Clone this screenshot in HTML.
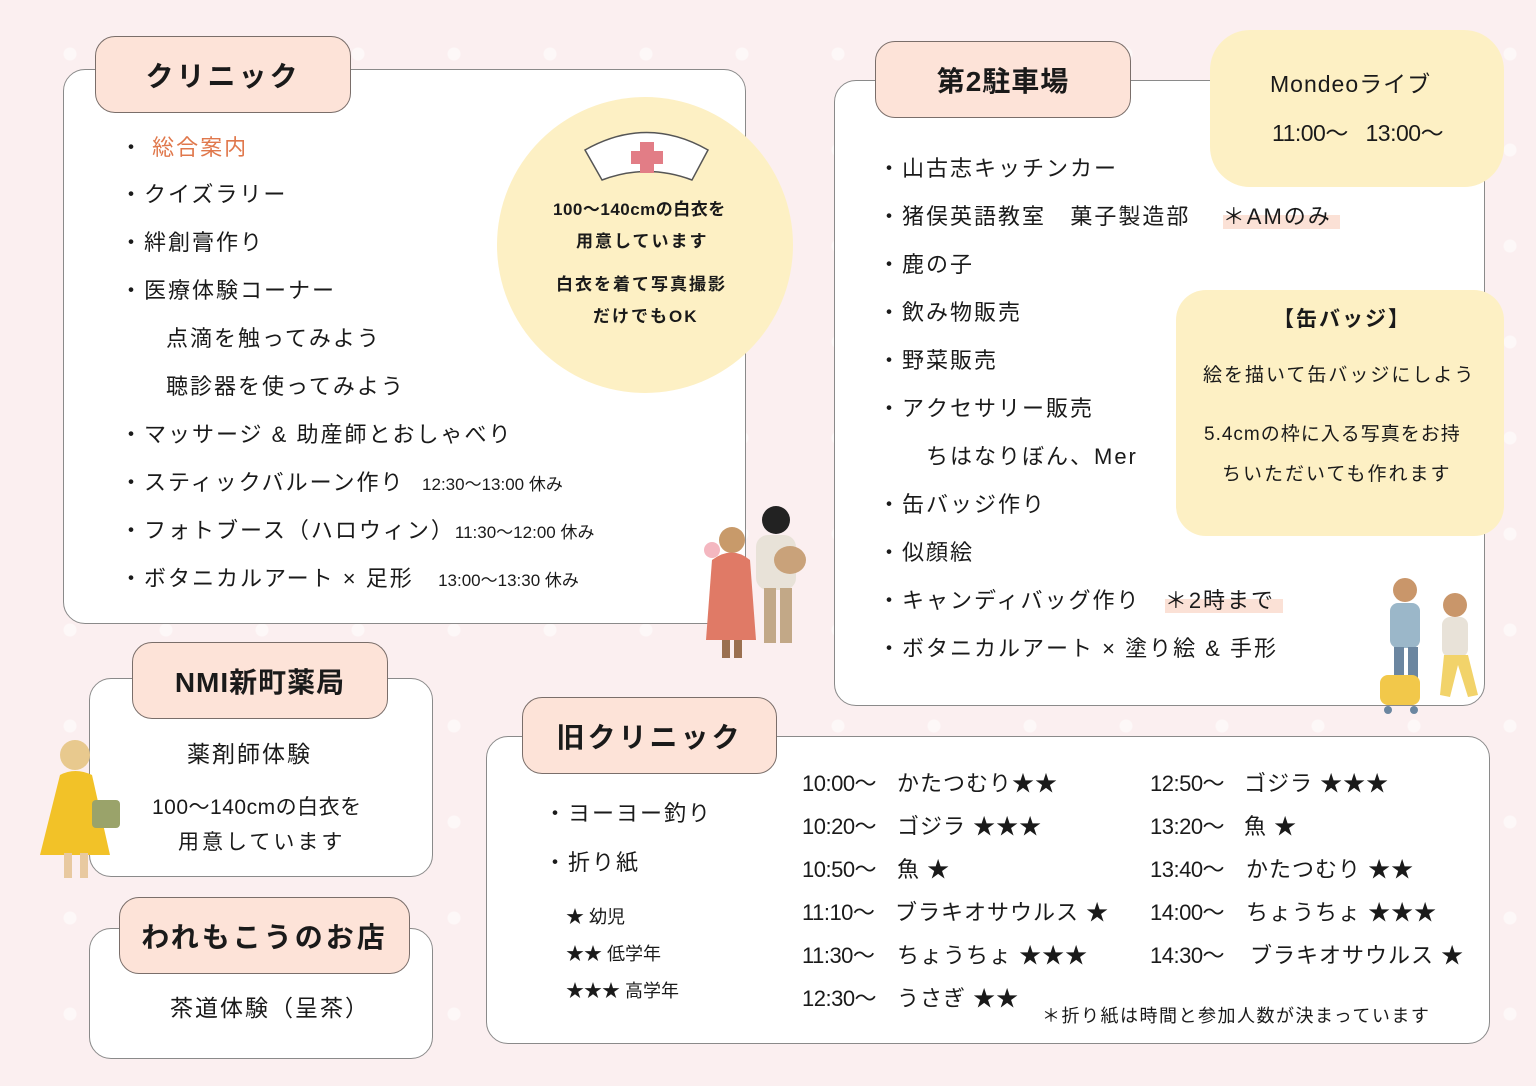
<!DOCTYPE html>
<html><head><meta charset="utf-8">
<style>
*{margin:0;padding:0;box-sizing:border-box}
body{width:1536px;height:1086px;position:relative;overflow:hidden;background:#fbeff0;
font-family:"Liberation Sans","Noto Sans CJK JP",sans-serif;color:#1a1a1a;
background-image:radial-gradient(circle,#fdf8f8 6px,transparent 7px);background-size:96px 96px;background-position:22px 6px}
.box{position:absolute;background:#fff;border:1.5px solid #8a8a8a;border-radius:22px}
.tab{position:absolute;background:#fde3d8;border:1.5px solid #7a6e6a;border-radius:20px;display:flex;align-items:center;justify-content:center;font-weight:bold;font-size:28px;letter-spacing:3px}
.y{position:absolute;background:#fdf0c4;border-radius:40px}
.t{position:absolute;white-space:nowrap;line-height:1;font-size:22px;letter-spacing:2px}
.s{font-size:17px;letter-spacing:0}
.tt{letter-spacing:1px}
.hl{background:linear-gradient(transparent 45%,#fbe1d6 45%)}
</style></head><body>

<div class="box" style="left:63px;top:69px;width:683px;height:555px"></div>
<div class="tab" style="left:95px;top:36px;width:256px;height:77px">クリニック</div>
<div class="t" style="left:120px;top:137px">・ <span style="color:#e0784c">総合案内</span></div>
<div class="t" style="left:120px;top:184px">・クイズラリー</div>
<div class="t" style="left:120px;top:232px">・絆創膏作り</div>
<div class="t" style="left:120px;top:280px">・医療体験コーナー</div>
<div class="t" style="left:166px;top:328px">点滴を触ってみよう</div>
<div class="t" style="left:166px;top:376px">聴診器を使ってみよう</div>
<div class="t" style="left:120px;top:424px">・マッサージ &amp; 助産師とおしゃべり</div>
<div class="t" style="left:120px;top:472px">・スティックバルーン作り <span class="s">&nbsp;&nbsp;12:30〜13:00 休み</span></div>
<div class="t" style="left:120px;top:520px">・フォトブース（ハロウィン）<span class="s">11:30〜12:00 休み</span></div>
<div class="t" style="left:120px;top:568px">・ボタニカルアート × 足形 &nbsp;&nbsp;<span class="s">13:00〜13:30 休み</span></div>

<div style="position:absolute;left:497px;top:97px;width:296px;height:296px;border-radius:50%;background:#fdf0c4"></div>
<svg style="position:absolute;left:580px;top:125px" width="135" height="60" viewBox="0 0 135 60">
<path d="M5 25 Q67 -10 128 25 L112 55 Q67 38 22 55 Z" fill="#fff" stroke="#555" stroke-width="1.5"/>
<path d="M60 17h14v9h9v13h-9v9h-14v-9h-9v-13h9z" fill="#e27d86"/>
</svg>
<div class="t" style="left:553px;top:201px;font-size:17px;letter-spacing:0.5px;font-weight:bold">100〜140cmの白衣を</div>
<div class="t" style="left:576px;top:233px;font-size:17px;letter-spacing:2px;font-weight:bold">用意しています</div>
<div class="t" style="left:556px;top:276px;font-size:17px;letter-spacing:2px;font-weight:bold">白衣を着て写真撮影</div>
<div class="t" style="left:593px;top:308px;font-size:17px;letter-spacing:2px;font-weight:bold">だけでもOK</div>

<svg style="position:absolute;left:700px;top:500px" width="110" height="165" viewBox="0 0 110 165">
<circle cx="76" cy="20" r="14" fill="#222"/>
<rect x="56" y="35" width="40" height="55" rx="12" fill="#e8e2d8"/>
<ellipse cx="90" cy="60" rx="16" ry="14" fill="#c9a27a"/>
<rect x="64" y="88" width="12" height="55" fill="#c2a887"/><rect x="80" y="88" width="12" height="55" fill="#c2a887"/>
<circle cx="32" cy="40" r="13" fill="#c89a6a"/>
<path d="M12 60 Q32 45 50 60 L56 140 L6 140 Z" fill="#e07a66"/>
<circle cx="12" cy="50" r="8" fill="#f4b7c0"/>
<rect x="22" y="140" width="8" height="18" fill="#9a7050"/><rect x="34" y="140" width="8" height="18" fill="#9a7050"/>
</svg>

<div class="box" style="left:834px;top:80px;width:651px;height:626px"></div>
<div class="tab" style="left:875px;top:41px;width:256px;height:77px;letter-spacing:1px">第2駐車場</div>
<div class="y" style="left:1210px;top:30px;width:294px;height:157px"></div>
<div class="t" style="left:1270px;top:73px;font-size:23px;letter-spacing:1px">Mondeoライブ</div>
<div class="t" style="left:1272px;top:122px;font-size:23px;letter-spacing:-0.5px">11:00〜 &nbsp;&nbsp;13:00〜</div>
<div class="t" style="left:878px;top:158px">・山古志キッチンカー</div>
<div class="t" style="left:878px;top:206px">・猪俣英語教室 &nbsp;&nbsp;菓子製造部 &nbsp;&nbsp;&nbsp;<span class="hl">＊AMのみ&nbsp;</span></div>
<div class="t" style="left:878px;top:254px">・鹿の子</div>
<div class="t" style="left:878px;top:302px">・飲み物販売</div>
<div class="t" style="left:878px;top:350px">・野菜販売</div>
<div class="t" style="left:878px;top:398px">・アクセサリー販売</div>
<div class="t" style="left:926px;top:446px">ちはなりぼん、Mer</div>
<div class="t" style="left:878px;top:494px">・缶バッジ作り</div>
<div class="t" style="left:878px;top:542px">・似顔絵</div>
<div class="t" style="left:878px;top:590px">・キャンディバッグ作り &nbsp;&nbsp;<span class="hl">＊2時まで&nbsp;</span></div>
<div class="t" style="left:878px;top:638px">・ボタニカルアート × 塗り絵 &amp; 手形</div>
<div class="y" style="left:1176px;top:290px;width:328px;height:246px;border-radius:30px"></div>
<div class="t" style="left:1273px;top:309px;font-size:21px;font-weight:bold;letter-spacing:2px">【缶バッジ】</div>
<div class="t" style="left:1203px;top:366px;font-size:19px;letter-spacing:2px">絵を描いて缶バッジにしよう</div>
<div class="t" style="left:1204px;top:425px;font-size:19px;letter-spacing:1px">5.4cmの枠に入る写真をお持</div>
<div class="t" style="left:1222px;top:465px;font-size:19px;letter-spacing:2px">ちいただいても作れます</div>
<svg style="position:absolute;left:1380px;top:575px" width="105" height="145" viewBox="0 0 105 145">
<circle cx="25" cy="15" r="12" fill="#c9966a"/><rect x="10" y="28" width="30" height="45" rx="8" fill="#9bb7c9"/>
<rect x="14" y="72" width="10" height="45" fill="#6b86a0"/><rect x="28" y="72" width="10" height="45" fill="#6b86a0"/>
<circle cx="75" cy="30" r="12" fill="#c9966a"/><rect x="62" y="42" width="26" height="40" rx="8" fill="#e8e2d8"/>
<path d="M64 80 L88 80 L98 120 L88 122 L78 90 L70 122 L60 120Z" fill="#f2d36a"/>
<rect x="0" y="100" width="40" height="30" rx="8" fill="#f2c84a"/><circle cx="8" cy="135" r="4" fill="#6b86a0"/><circle cx="34" cy="135" r="4" fill="#6b86a0"/>
</svg>

<div class="box" style="left:89px;top:678px;width:344px;height:199px"></div>
<div class="tab" style="left:132px;top:642px;width:256px;height:77px;letter-spacing:1px">NMI新町薬局</div>
<div class="t" style="left:187px;top:743px;font-size:23px;letter-spacing:2px">薬剤師体験</div>
<div class="t" style="left:152px;top:797px;font-size:21px;letter-spacing:0.5px">100〜140cmの白衣を</div>
<div class="t" style="left:178px;top:832px;font-size:21px;letter-spacing:3px">用意しています</div>
<svg style="position:absolute;left:30px;top:735px" width="95" height="150" viewBox="0 0 95 150">
<circle cx="45" cy="20" r="15" fill="#e8c98e"/>
<path d="M30 40 Q45 32 62 40 L80 120 L10 120 Z" fill="#f2c228"/>
<rect x="62" y="65" width="28" height="28" rx="4" fill="#9aa36a"/>
<rect x="34" y="118" width="8" height="25" fill="#e8c9a0"/><rect x="50" y="118" width="8" height="25" fill="#e8c9a0"/>
</svg>

<div class="box" style="left:89px;top:928px;width:344px;height:131px"></div>
<div class="tab" style="left:119px;top:897px;width:291px;height:77px">われもこうのお店</div>
<div class="t" style="left:170px;top:997px;font-size:23px;letter-spacing:2px">茶道体験（呈茶）</div>

<div class="box" style="left:486px;top:736px;width:1004px;height:308px"></div>
<div class="tab" style="left:522px;top:697px;width:255px;height:77px">旧クリニック</div>
<div class="t" style="left:544px;top:803px">・ヨーヨー釣り</div>
<div class="t" style="left:544px;top:852px">・折り紙</div>
<div class="t" style="left:566px;top:908px;font-size:18px;letter-spacing:0">★ 幼児</div>
<div class="t" style="left:566px;top:945px;font-size:18px;letter-spacing:0">★★ 低学年</div>
<div class="t" style="left:566px;top:982px;font-size:18px;letter-spacing:0">★★★ 高学年</div>

<div class="t" style="left:802px;top:773px;letter-spacing:-0.5px">10:00〜</div><div class="t tt" style="left:897px;top:773px">かたつむり★★</div>
<div class="t" style="left:802px;top:816px;letter-spacing:-0.5px">10:20〜</div><div class="t tt" style="left:897px;top:816px">ゴジラ ★★★</div>
<div class="t" style="left:802px;top:859px;letter-spacing:-0.5px">10:50〜</div><div class="t tt" style="left:897px;top:859px">魚 ★</div>
<div class="t" style="left:802px;top:902px;letter-spacing:-0.5px">11:10〜</div><div class="t tt" style="left:895px;top:902px">ブラキオサウルス ★</div>
<div class="t" style="left:802px;top:945px;letter-spacing:-0.5px">11:30〜</div><div class="t tt" style="left:897px;top:945px">ちょうちょ ★★★</div>
<div class="t" style="left:802px;top:988px;letter-spacing:-0.5px">12:30〜</div><div class="t tt" style="left:897px;top:988px">うさぎ ★★</div>
<div class="t" style="left:1150px;top:773px;letter-spacing:-0.5px">12:50〜</div><div class="t tt" style="left:1244px;top:773px">ゴジラ ★★★</div>
<div class="t" style="left:1150px;top:816px;letter-spacing:-0.5px">13:20〜</div><div class="t tt" style="left:1244px;top:816px">魚 ★</div>
<div class="t" style="left:1150px;top:859px;letter-spacing:-0.5px">13:40〜</div><div class="t tt" style="left:1246px;top:859px">かたつむり ★★</div>
<div class="t" style="left:1150px;top:902px;letter-spacing:-0.5px">14:00〜</div><div class="t tt" style="left:1246px;top:902px">ちょうちょ ★★★</div>
<div class="t" style="left:1150px;top:945px;letter-spacing:-0.5px">14:30〜</div><div class="t tt" style="left:1250px;top:945px">ブラキオサウルス ★</div>
<div class="t" style="left:1042px;top:1007px;font-size:18px;letter-spacing:1.5px">＊折り紙は時間と参加人数が決まっています</div>
</body></html>
